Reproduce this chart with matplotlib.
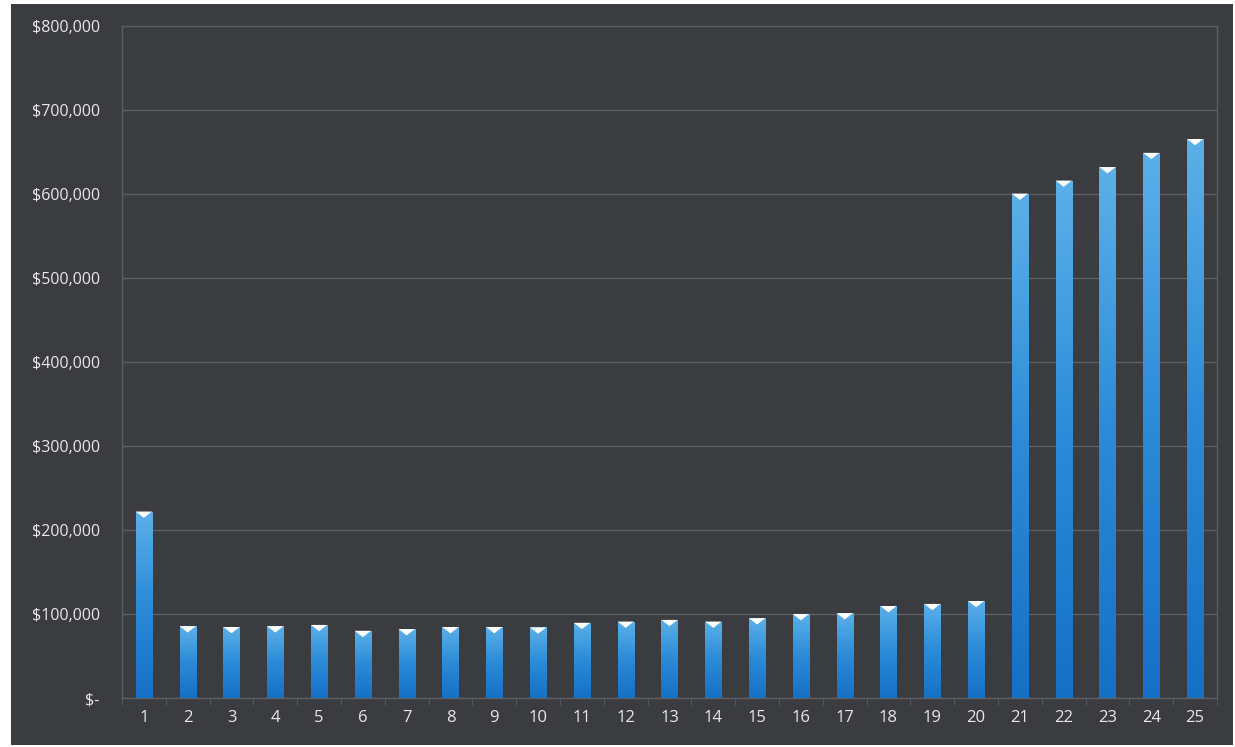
import numpy as np
import matplotlib
matplotlib.use("Agg")
import matplotlib.pyplot as plt
from matplotlib.patches import Rectangle, Polygon
from matplotlib.ticker import FuncFormatter, MultipleLocator
from matplotlib.colors import LinearSegmentedColormap

categories = [str(i) for i in range(1, 26)]
values = [222000, 85500, 84500, 85500, 87000, 80000, 82000, 84500, 84500, 84000,
          89500, 91000, 93000, 91000, 95000, 100000, 101000, 109500, 112000, 115500,
          600500, 616000, 632000, 649000, 665500]

bg = "#3b3c3f"
grid_c = "#5c5e61"
text_c = "#e8e8e8"

fig = plt.figure(figsize=(12.35, 7.47), dpi=100, facecolor="white")
fig.patches.append(Rectangle((11/1235, 2/747), (1233-11)/1235, 741/747,
                             transform=fig.transFigure, facecolor=bg, edgecolor="none", zorder=-10))
ax = fig.add_axes([122/1235, 1-698/747, (1217-122)/1235, (698-26)/747])
ax.set_facecolor(bg)

x = np.arange(len(categories))
bars = ax.bar(x, values, width=0.37, color="none", edgecolor="none", zorder=3)

cmap = LinearSegmentedColormap.from_list("g", ["#1670c6", "#2b8bd8", "#5cb0e8"])
grad = np.linspace(0, 1, 256).reshape(-1, 1)
for b, v in zip(bars, values):
    x0 = b.get_x(); w = b.get_width()
    im = ax.imshow(grad, cmap=cmap, origin="lower", aspect="auto",
                   extent=(x0, x0 + w, 0, v), zorder=3, interpolation="bilinear")
    im.set_clip_path(b)
    tri = Polygon([(x0, v), (x0 + w, v), (x0 + w / 2, v - 7500)], closed=True,
                  facecolor="white", edgecolor="none", zorder=4)
    ax.add_patch(tri)

ax.set_xlim(-0.5, len(categories) - 0.5)
ax.set_ylim(0, 800000)
ax.yaxis.set_major_locator(MultipleLocator(100000))

def fmt(v, pos):
    if v == 0:
        return "$-"
    return "${:,.0f}".format(v)
ax.yaxis.set_major_formatter(FuncFormatter(fmt))

ax.set_xticks(x)
ax.set_xticklabels(categories)
ax.set_xticks(np.arange(-0.5, len(categories)), minor=True)
ax.tick_params(axis="x", which="major", length=0, pad=9, labelsize=12, labelcolor=text_c)
ax.tick_params(axis="x", which="minor", length=5, color=grid_c, direction="out")
ax.tick_params(axis="y", which="major", length=0, pad=16, labelsize=11.5, labelcolor=text_c)
for lab in ax.get_xticklabels() + ax.get_yticklabels():
    lab.set_fontfamily(["Open Sans", "DejaVu Sans"])

ax.grid(axis="y", color=grid_c, linewidth=1.0, zorder=1)
for s in ax.spines.values():
    s.set_color(grid_c)
    s.set_linewidth(1.0)
ax.set_axisbelow(True)

fig.savefig("out.png", dpi=100, facecolor=fig.get_facecolor())
